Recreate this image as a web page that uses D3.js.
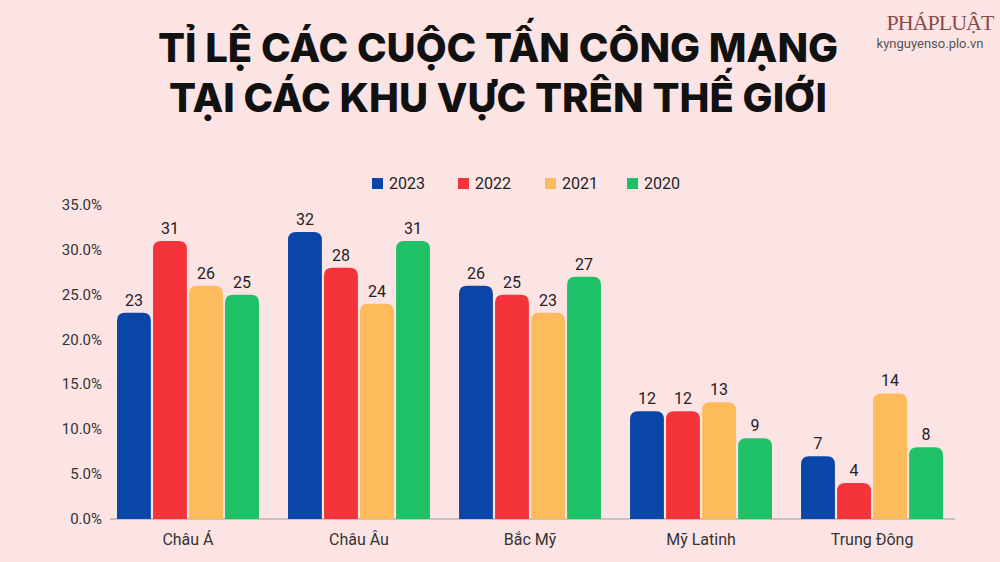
<!DOCTYPE html><html><head><meta charset="utf-8"><script src="https://cdn.jsdelivr.net/npm/d3@7"></script>
<style>body{margin:0;background:#fde4e4;}svg{display:block}</style></head><body><svg width="1000" height="562"></svg>
<script>
const regions=["Châu Á","Châu Âu","Bắc Mỹ","Mỹ Latinh","Trung Đông"];
const years=["2023","2022","2021","2020"];
const colors=["#0a45a8","#f5333a","#fdbb5c","#1fc167"];
const v2023=[23,32,26,12,7];
const v2022=[31,28,25,12,4];
const v2021=[26,24,23,13,14];
const v2020=[25,31,27,9,8];
const series=[v2023,v2022,v2021,v2020];
const yTicks=[0,5,10,15,20,25,30,35];
const svg=d3.select("svg");
svg.append("rect").attr("width",1000).attr("height",562).attr("fill","#fde4e4");
const title=["TỈ LỆ CÁC CUỘC TẤN CÔNG MẠNG","TẠI CÁC KHU VỰC TRÊN THẾ GIỚI"];
title.forEach((t,i)=>svg.append("text").attr("x",498).attr("y",62+i*50).attr("text-anchor","middle")
 .attr("font-family","Inter, 'Noto Sans', sans-serif").attr("font-weight",800).attr("font-size",40).attr("fill","#111").text(t));
svg.append("text").attr("x",940).attr("y",30).attr("text-anchor","middle").attr("font-family","'Liberation Serif',serif").attr("font-size",22).attr("fill","#8a4a4a").attr("letter-spacing",-1).text("PHÁPLUẬT");
svg.append("text").attr("x",930).attr("y",48).attr("text-anchor","middle").attr("font-family","Roboto, sans-serif").attr("font-size",13).attr("fill","#555").text("kynguyenso.plo.vn");
const x0=d3.scaleBand().domain(regions).range([117,943]).paddingInner(0.17).paddingOuter(0.0);
const x1=d3.scaleBand().domain(years).range([0,x0.bandwidth()]).paddingInner(0.06);
const y=d3.scaleLinear().domain([0,35]).range([519,205]);
const f="Roboto, 'Open Sans', sans-serif";
yTicks.forEach(t=>svg.append("text").attr("x",102).attr("y",y(t)+5).attr("text-anchor","end").attr("font-family",f).attr("font-size",15).attr("fill","#333").text(t.toFixed(1)+"%"));
svg.append("line").attr("x1",110).attr("x2",955).attr("y1",519).attr("y2",519).attr("stroke","#999");
regions.forEach((r,i)=>{
 svg.append("text").attr("x",x0(r)+x0.bandwidth()/2).attr("y",545).attr("text-anchor","middle").attr("font-family",f).attr("font-size",16).attr("fill","#333").text(r);
 series.forEach((s,j)=>{
  const xx=x0(r)+x1(years[j]),w=x1.bandwidth(),h=519-y(s[i]),rr=Math.min(8,h);
  svg.append("path").attr("fill",colors[j]).attr("d",`M${xx},519V${y(s[i])+rr}Q${xx},${y(s[i])} ${xx+rr},${y(s[i])}H${xx+w-rr}Q${xx+w},${y(s[i])} ${xx+w},${y(s[i])+rr}V519Z`);
  svg.append("text").attr("x",xx+w/2).attr("y",y(s[i])-7).attr("text-anchor","middle").attr("font-family",f).attr("font-size",16).attr("fill","#222").text(s[i]);
 });
});
const lx=[372,458,545,627];
years.forEach((yr,j)=>{
 svg.append("rect").attr("x",lx[j]).attr("y",178).attr("width",11).attr("height",11).attr("fill",colors[j]);
 svg.append("text").attr("x",lx[j]+17).attr("y",189).attr("font-family",f).attr("font-size",16).attr("fill","#222").text(yr);
});
</script></body></html>
